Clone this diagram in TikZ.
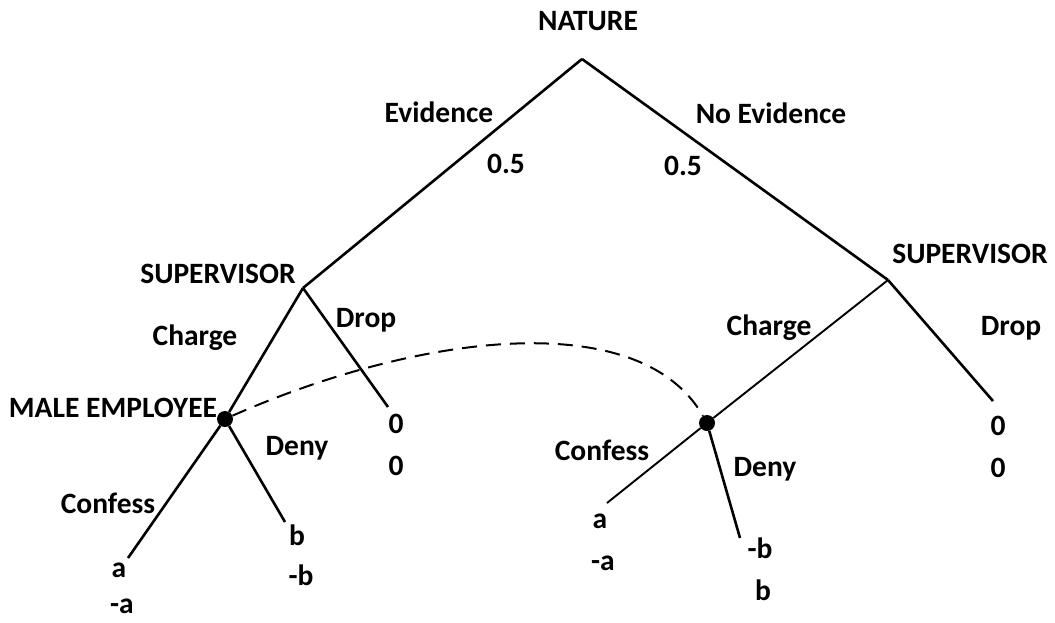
\documentclass[tikz,border=0pt]{standalone}
\usepackage{fontspec}
\setmainfont{Carlito}
\begin{document}
\begin{tikzpicture}[
    x=1pt, y=-1pt,
    every node/.style={font=\fontsize{29.5}{34}\selectfont\bfseries, inner sep=0pt, anchor=base},
    branch/.style={line width=2.6pt},
    thinbranch/.style={line width=1.9pt},
    infoset/.style={line width=2pt, dash pattern=on 15pt off 9pt},
    decnode/.style={circle, fill=black, minimum size=16pt, inner sep=0pt, anchor=center}
]
\useasboundingbox (0,0) rectangle (1055,622);
% decision points
\coordinate (nat)  at (582,59);
\coordinate (supL) at (303,288);
\coordinate (supR) at (888,280);
\node[decnode] (empL) at (225,419) {};
\node[decnode] (empR) at (707,423) {};
% end points
\coordinate (dropL) at (388,407);
\coordinate (dropR) at (993,401);
\coordinate (confL) at (128,558);
\coordinate (denyL) at (285,522);
\coordinate (confR) at (607,503);
\coordinate (denyR) at (740,538);
% players and moves
\node (natlbl)  at (588,30)  {NATURE};
\node (evid)    at (439,122) {Evidence};
\node (pevid)   at (506,173) {0.5};
\node (noevid)  at (771,123) {No Evidence};
\node (pnoevid) at (683,175) {0.5};
\node (suplblL) at (218,283) {SUPERVISOR};
\node (suplblR) at (970,263) {SUPERVISOR};
\node (chargeL) at (195,345) {Charge};
\node (droplblL) at (366,327) {Drop};
\node (chargeR) at (769,335) {Charge};
\node (droplblR) at (1011,335) {Drop};
\node (emplbl)  at (113,417) {MALE EMPLOYEE};
\node (conflblL) at (108,513) {Confess};
\node (denylblL) at (297,455) {Deny};
\node (conflblR) at (602,460) {Confess};
\node (denylblR) at (765,476) {Deny};
% payoffs
\node (pa1) at (119,577) {a};
\node (pa2) at (122,613) {-a};
\node (pb1) at (297,545) {b};
\node (pb2) at (301,585) {-b};
\node (pz1) at (396,433) {0};
\node (pz2) at (396,475) {0};
\node (qa1) at (600,528) {a};
\node (qa2) at (603,570) {-a};
\node (qb1) at (760,558) {-b};
\node (qb2) at (763,600) {b};
\node (qz1) at (998,435) {0};
\node (qz2) at (998,477) {0};
% branches
\draw[branch] (nat) -- (supL);
\draw[branch] (nat) -- (supR);
\draw[branch] (supL) -- (empL);
\draw[branch] (supL) -- (dropL);
\draw[branch] (empL) -- (confL);
\draw[branch] (empL) -- (denyL);
\draw[thinbranch] (supR) -- (empR);
\draw[branch] (supR) -- (dropR);
\draw[thinbranch] (empR) -- (confR);
\draw[branch] (empR) -- (denyR);
% information set
\draw[infoset] (empL) .. controls (420,333) and (640,306) .. (empR);
\end{tikzpicture}
\end{document}
